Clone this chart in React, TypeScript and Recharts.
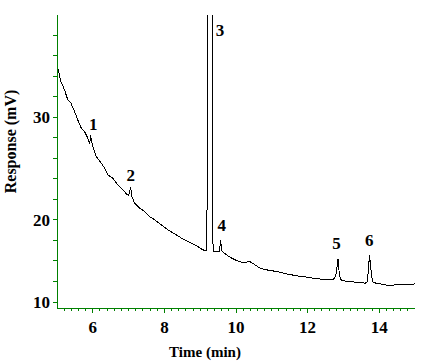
import { LineChart, Line, XAxis, YAxis, ReferenceDot, Label } from "recharts"

// chromatogram trace
const retentionTimes = [
  5.0, 5.11, 5.21, 5.3, 5.39, 5.49, 5.58, 5.68, 5.77, 5.86, 5.91, 5.94, 5.96, 6.0,
  6.1, 6.24, 6.33, 6.42, 6.56, 6.66, 6.8, 6.94, 7.0, 7.06, 7.09, 7.17, 7.31, 7.45,
  7.59, 7.73, 7.92, 8.1, 8.29, 8.48, 8.66, 8.85, 9.08, 9.18, 9.19, 9.215, 9.22,
  9.28, 9.333, 9.34, 9.38, 9.5, 9.54, 9.57, 9.6, 9.62, 9.74, 9.88, 10.02, 10.2,
  10.39, 10.53, 10.67, 10.86, 11.14, 11.42, 11.7, 11.98, 12.26, 12.58, 12.72, 12.76,
  12.8, 12.85, 12.89, 12.93, 12.96, 13.19, 13.47, 13.61, 13.66, 13.69, 13.73, 13.78,
  13.81, 13.84, 14.03, 14.26, 14.5, 14.78, 15.0,
]
const responses = [
  35.09, 33.47, 32.66, 31.7, 31.36, 30.55, 29.74, 28.93, 28.6, 27.96, 27.47, 28.05, 27.85, 27.14,
  26.16, 25.52, 25.03, 24.38, 24.06, 23.57, 23.09, 22.53, 22.37, 23.18, 22.27, 21.63, 21.14, 20.81,
  20.32, 20.0, 19.51, 19.03, 18.64, 18.22, 17.89, 17.57, 17.08, 16.98, 20.97, 21.2, 60,
  95, 60, 18.2, 16.9, 16.91, 16.95, 18.05, 17.0, 16.91, 16.59, 16.27, 16.04, 15.84,
  15.94, 15.62, 15.3, 15.13, 14.97, 14.74, 14.55, 14.42, 14.26, 14.2, 14.23, 14.35,
  14.81, 16.2, 14.55, 14.2, 14.09, 13.99, 13.89, 13.84, 13.95, 14.81, 16.59, 14.81,
  14.1, 13.89, 13.77, 13.6, 13.7, 13.67, 13.77,
]

const peakNames = ["1", "2", "3", "4", "5", "6"]
const peakLabelTimes = [6.01, 7.06, 9.55, 9.6, 12.81, 13.72]
const peakLabelResponses = [29.35, 24.38, 38.5, 19.51, 17.71, 18.0]

const xTicks = [
  5.2, 5.4, 5.6, 5.8, 6, 6.2, 6.4, 6.6, 6.8, 7, 7.2, 7.4, 7.6, 7.8, 8, 8.2, 8.4, 8.6, 8.8,
  9, 9.2, 9.4, 9.6, 9.8, 10, 10.2, 10.4, 10.6, 10.8, 11, 11.2, 11.4, 11.6, 11.8, 12, 12.2,
  12.4, 12.6, 12.8, 13, 13.2, 13.4, 13.6, 13.8, 14, 14.2, 14.4, 14.6, 14.8,
]
const xMajorTicks = [6, 8, 10, 12, 14]
const yTicks = [12, 14, 16, 18, 20, 22, 24, 26, 28, 30, 32, 34, 36, 38]
const yLabelValues = [12, 20, 30]
const yLabelTexts = ["10", "20", "30"]

const X_DOMAIN = [5, 15]
const Y_DOMAIN = [11.42, 39.95]
const GREEN = "#008000"
const FONT = "Liberation Serif, DejaVu Serif, Times New Roman, serif"
const textStyle = { fontFamily: FONT, fontWeight: "bold" as const }
const greenLine = { stroke: GREEN, shapeRendering: "crispEdges" }

const data = retentionTimes.map((t, i) => ({ t, v: responses[i] }))

function BottomTick(props: any) {
  const { x, y, payload } = props
  const major = xMajorTicks.includes(payload.value)
  return (
    <g>
      <line x1={x} x2={x} y1={y} y2={y + (major ? 5 : 2.5)} stroke={GREEN} shapeRendering="crispEdges" />
      {major && (
        <text x={x} y={y + 24.5} textAnchor="middle" fill="#000" fontSize={17} style={textStyle}>
          {payload.value}
        </text>
      )}
    </g>
  )
}

export default function App() {
  return (
    <div style={{ position: "absolute", left: 0, top: 0, background: "#fff", fontFamily: FONT }}>
      <LineChart width={434} height={363} data={data} margin={{ top: 15, right: 19, bottom: 0, left: 0 }}>
        <XAxis
          xAxisId="bottom"
          dataKey="t"
          type="number"
          domain={X_DOMAIN}
          allowDataOverflow
          ticks={xTicks}
          interval={0}
          height={55}
          tickSize={0}
          tickMargin={0}
          tickLine={false}
          tick={<BottomTick />}
          axisLine={greenLine}
        >
          <Label
            content={(p: any) => (
              <text
                x={p.viewBox.x + 148}
                y={p.viewBox.y + 49}
                textAnchor="middle"
                fill="#000"
                fontSize={15}
                style={textStyle}
              >
                Time (min)
              </text>
            )}
          />
        </XAxis>
        <XAxis
          xAxisId="top"
          orientation="top"
          type="number"
          domain={X_DOMAIN}
          allowDataOverflow
          ticks={xMajorTicks}
          interval={0}
          height={0}
          tickSize={4}
          tick={false}
          tickLine={greenLine}
          axisLine={greenLine}
        />
        <YAxis
          yAxisId="left"
          type="number"
          domain={Y_DOMAIN}
          allowDataOverflow
          ticks={yTicks}
          interval={0}
          width={57}
          tickSize={4}
          tickMargin={3}
          tickLine={greenLine}
          axisLine={greenLine}
          tick={{ fill: "#000", fontSize: 17, style: textStyle }}
          tickFormatter={(v: number) => {
            const i = yLabelValues.indexOf(v)
            return i >= 0 ? yLabelTexts[i] : ""
          }}
        >
          <Label
            content={() => {
              const cx = 16
              const cy = 141.5
              return (
                <text
                  x={cx}
                  y={cy}
                  transform={`rotate(-90, ${cx}, ${cy})`}
                  textAnchor="middle"
                  fill="#000"
                  fontSize={16}
                  style={textStyle}
                >
                  Response (mV)
                </text>
              )
            }}
          />
        </YAxis>
        <YAxis
          yAxisId="right"
          orientation="right"
          type="number"
          domain={Y_DOMAIN}
          allowDataOverflow
          ticks={yTicks}
          interval={0}
          width={0}
          tickSize={4}
          tick={false}
          tickLine={greenLine}
          axisLine={greenLine}
        />
        <Line
          xAxisId="bottom"
          yAxisId="left"
          dataKey="v"
          type="linear"
          stroke="#000"
          strokeWidth={1}
          shapeRendering="crispEdges"
          dot={false}
          isAnimationActive={false}
        />
        {peakNames.map((name, i) => (
          <ReferenceDot
            key={name}
            xAxisId="bottom"
            yAxisId="left"
            x={peakLabelTimes[i]}
            y={peakLabelResponses[i]}
            r={0}
            fill="none"
            stroke="none"
            label={{
              value: name,
              position: "center",
              fill: "#000",
              fontSize: 17,
              style: textStyle,
            }}
          />
        ))}
      </LineChart>
    </div>
  )
}
